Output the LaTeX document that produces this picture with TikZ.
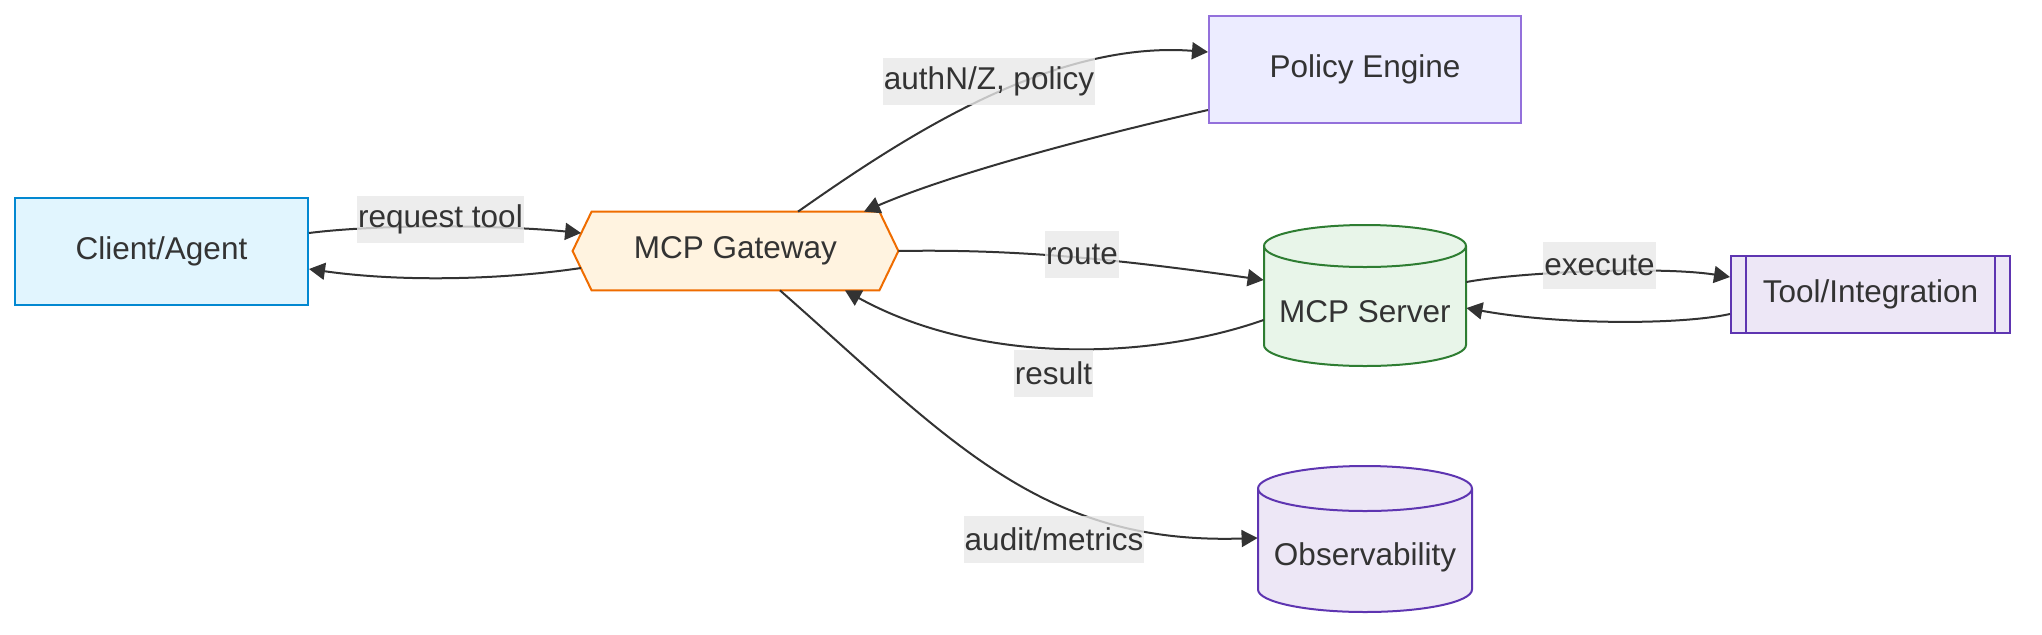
\documentclass[tikz,border=0pt]{standalone}
\usepackage{fontspec}
\setmainfont{Liberation Sans}
\usetikzlibrary{arrows.meta,calc,backgrounds}
\definecolor{txt}{HTML}{333333}
\definecolor{edgec}{HTML}{333333}
\definecolor{clientc}{HTML}{0288D1}
\definecolor{clientf}{HTML}{E1F5FE}
\definecolor{gwc}{HTML}{EF6C00}
\definecolor{gwf}{HTML}{FFF3E0}
\definecolor{policyc}{HTML}{9370DB}
\definecolor{policyf}{HTML}{ECECFF}
\definecolor{srvc}{HTML}{2E7D32}
\definecolor{srvf}{HTML}{E8F5E9}
\definecolor{toolc}{HTML}{5E35B1}
\definecolor{toolf}{HTML}{EDE7F6}
\definecolor{labelbg}{HTML}{E8E8E8}
\begin{document}
\begin{tikzpicture}[x=0.5pt,y=-0.5pt,
  every node/.style={font=\fontsize{15.75pt}{18pt}\selectfont, text=txt},
  box/.style={draw, line width=1pt, inner sep=0pt},
  ghost/.style={inner sep=0pt},
  shapeline/.style={line width=1pt},
  edge/.style={draw=edgec, line width=1pt, -{Triangle[length=8pt,width=8.5pt]}},
  elabel/.style={fill=labelbg, fill opacity=0.8, text opacity=1, inner xsep=0.5pt, inner ysep=0pt, minimum height=23.5pt}
]
\useasboundingbox (0,0) rectangle (2042,634);

% nodes
\node[box, draw=clientc, fill=clientf, minimum width=146.5pt, minimum height=53.5pt] (client) at (161.5,251.5) {Client/Agent};
\node[ghost, minimum width=162.5pt, minimum height=39pt] (gw) at (735.5,251) {MCP Gateway};
\node[box, draw=policyc, fill=policyf, minimum width=156pt, minimum height=53.5pt] (policy) at (1365,69.5) {Policy Engine};
\node[ghost, minimum width=101pt, minimum height=70.5pt] (srv) at (1365,295.5) {};
\node (srvtext) at (1365,312) {MCP Server};
\node[box, draw=toolc, fill=toolf, minimum width=139.5pt, minimum height=38.5pt] (tool) at (1870.5,294.5) {Tool/Integration};
\node[ghost, minimum width=107pt, minimum height=73pt] (obs) at (1365,539) {};
\node (obstext) at (1365,557) {Observability};

\draw[toolc, line width=1pt] ($(tool.north west)+(16,0)$) -- ($(tool.south west)+(16,0)$);
\draw[toolc, line width=1pt] ($(tool.north east)+(-16,0)$) -- ($(tool.south east)+(-16,0)$);

\begin{scope}[on background layer]
  % gateway hexagon
  \draw[shapeline, draw=gwc, fill=gwf] (gw.west) -- ($(gw.north west)+(19,0)$) -- ($(gw.north east)+(-19,0)$) -- (gw.east) -- ($(gw.south east)+(-19,0)$) -- ($(gw.south west)+(19,0)$) -- cycle;
  % MCP server cylinder
  \draw[shapeline, draw=srvc, fill=srvf] (1264,246) -- (1264,345) arc[start angle=180,end angle=360,x radius=50.5pt,y radius=10.5pt] -- (1466,246) arc[start angle=0,end angle=180,x radius=50.5pt,y radius=10.5pt] -- cycle;
  \draw[shapeline, draw=srvc] (1264,246) arc[start angle=180,end angle=360,x radius=50.5pt,y radius=10.5pt];
  % Observability cylinder
  \draw[shapeline, draw=toolc, fill=toolf] (1258,488.5) -- (1258,589.5) arc[start angle=180,end angle=360,x radius=53.5pt,y radius=11.25pt] -- (1472,488.5) arc[start angle=0,end angle=180,x radius=53.5pt,y radius=11.25pt] -- cycle;
  \draw[shapeline, draw=toolc] (1258,488.5) arc[start angle=180,end angle=360,x radius=53.5pt,y radius=11.25pt];
\end{scope}

% edges
\draw[edge] ($(client.east)+(0,-18.5)$) .. controls (380,224) and (500,225) .. ($(gw.west)+(8.5,-18)$);
\draw[edge] ($(gw.west)+(8.5,17)$) .. controls (500,280) and (400,282) .. ($(client.east)+(0,17.5)$);
\draw[edge] ($(gw.north)+(62.5,0)$) .. controls (900,140) and (1050,40) .. ($(policy.west)+(0,-17.5)$);
\draw[edge] ($(policy.west)+(0,40.5)$) .. controls (1120,130) and (960,170) .. ($(gw.north)+(128.5,0)$);
\draw[edge] (gw.east) .. controls (1010,249) and (1110,258) .. ($(srv.west)+(0,-15.5)$);
\draw[edge] ($(srv.west)+(0,24.5)$) .. controls (1150,360) and (980,365) .. ($(gw.south)+(109.5,0)$);
\draw[edge] ($(gw.south)+(44.5,0)$) .. controls (950,440) and (1040,545) .. ($(obs.west)+(0,-1)$);
\draw[edge] ($(srv.east)+(0,-13.5)$) .. controls (1520,272) and (1660,266) .. ($(tool.west)+(0,-17.5)$);
\draw[edge] ($(tool.west)+(0,19.5)$) .. controls (1680,325) and (1560,325) .. ($(srv.east)+(0,12.5)$);

% edge labels
\node[elabel] (lreq) at (440.5,219.5) {request tool};
\node[elabel] (lauth) at (989,81.5) {authN/Z, policy};
\node[elabel] (lroute) at (1082,254.5) {route};
\node[elabel] (lresult) at (1053.5,373) {result};
\node[elabel] (lexec) at (1599.5,265.5) {execute};
\node[elabel] (laudit) at (1054,539) {audit/metrics};
\end{tikzpicture}
\end{document}
